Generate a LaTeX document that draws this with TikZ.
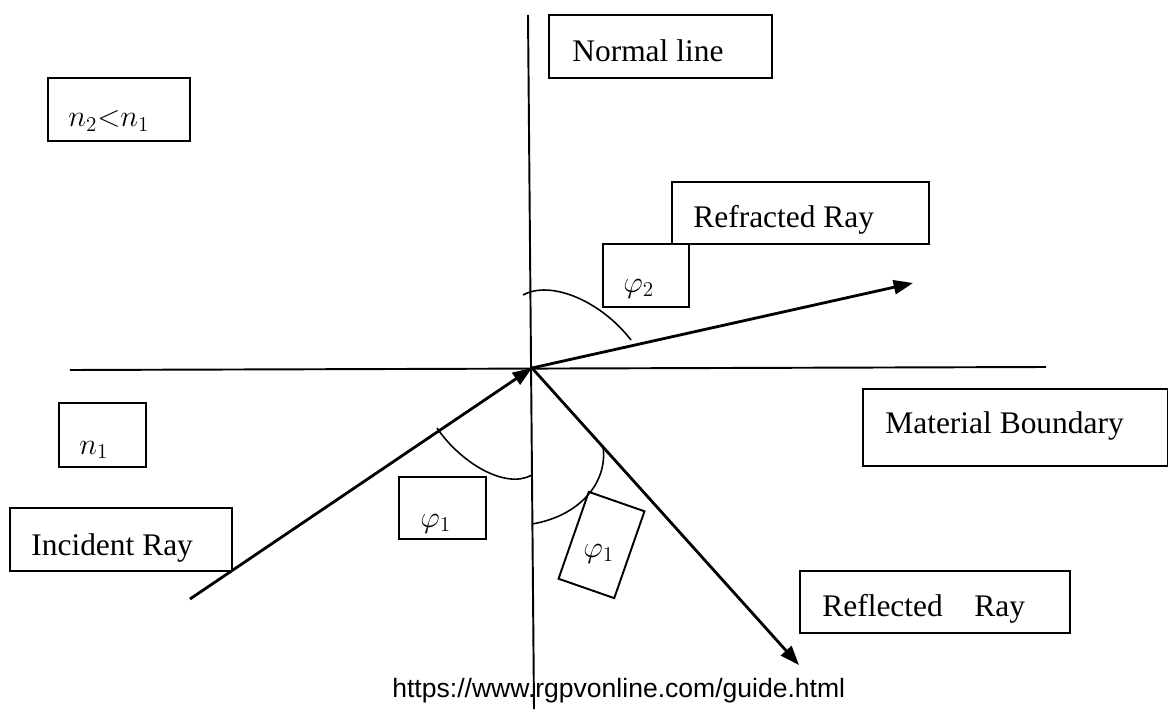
\documentclass[tikz,border=0pt]{standalone}
\usepackage{fontspec}
\setmainfont{Liberation Serif}
\newfontfamily\urlfont{Liberation Sans}
\usetikzlibrary{arrows.meta,fit}
\tikzset{
	lbox/.style={draw, line width=1.1pt, inner sep=0pt},
	lab/.style={font=\fontsize{17.9}{21}\selectfont, inner sep=0pt, anchor=base west},
	ray/.style={line width=1.6pt, -{Triangle[length=11pt,width=8pt]}},
	angarc/.style={line width=0.9pt},
}

\begin{document}
\begin{tikzpicture}[x=0.02cm, y=-0.02cm]
			%%%%% START %%%%%
			\useasboundingbox (0, 0) rectangle (1168, 709);
			
			\coordinate (O) at (532, 368);
			\coordinate (ntop) at (528, 15);
			\coordinate (nbot) at (534, 709);
			\coordinate (bleft) at (70, 370);
			\coordinate (bright) at (1046, 367);
			\coordinate (inc) at (190, 599);
			\coordinate (refr) at (913, 283);
			\coordinate (refl) at (799, 665);
			
			\draw[line width=1.1pt] (ntop) -- (nbot);
			\draw[line width=1.1pt] (bleft) -- (bright);
			
			\draw[ray] (inc) -- (O);
			\draw[ray] (O) -- (refr);
			\draw[ray] (O) -- (refl);
			
			\draw[angarc] (523, 295) .. controls (550, 280) and (600, 300) .. (631, 340);
			\draw[angarc] (437, 428) .. controls (460, 462) and (505, 490) .. (532, 475);
			\draw[angarc] (603, 447) .. controls (608, 482) and (580, 516) .. (532, 524);
			
			\node[lbox, fit={(549, 15) (772, 78)}] (normalbox) {};
			\node[lab] (normaltxt) at (572, 62) {Normal line};
			
			\node[lbox, fit={(48, 78) (190, 141)}] (n21box) {};
			\node[lab] (n21txt) at (68, 127) {$n_2{<}n_1$};
			
			\node[lbox, fit={(672, 182) (929, 244)}] (refrbox) {};
			\node[lab] (refrtxt) at (693, 228) {Refracted Ray};
			
			\node[lbox, fit={(603, 244) (689, 307)}] (phi2box) {};
			\node[lab] (phi2txt) at (623, 292) {$\varphi_2$};
			
			\node[lbox, fit={(863, 389) (1168, 466)}] (matbox) {};
			\node[lab] (mattxt) at (885, 433) {Material Boundary};
			
			\node[lbox, fit={(59, 403) (146, 467)}] (n1box) {};
			\node[lab] (n1txt) at (79, 454) {$n_1$};
			
			\node[lbox, fit={(10, 508) (232, 571)}] (incbox) {};
			\node[lab] (inctxt) at (31, 555) {Incident Ray};
			
			\node[lbox, fit={(399, 477) (486, 539)}] (phi1box) {};
			\node[lab] (phi1txt) at (420, 527) {$\varphi_1$};
			
			\node[lbox, minimum width=1.18cm, minimum height=1.84cm, rotate=-19.2] (phi1rbox) at (601.5, 545) {};
			\node[lab] (phi1rtxt) at (583, 557) {$\varphi_1$};
			
			\node[lbox, fit={(800, 571) (1070, 633)}] (reflbox) {};
			\node[lab] (refltxt) at (822, 616) {Reflected\hspace{0.75em} Ray};
			
			\node[font=\urlfont\fontsize{15.1}{18}\selectfont, inner sep=0pt, anchor=base west] (url) at (392, 697) {https://www.rgpvonline.com/guide.html};
			
			%%%%% END %%%%%
		\end{tikzpicture}
\end{document}
